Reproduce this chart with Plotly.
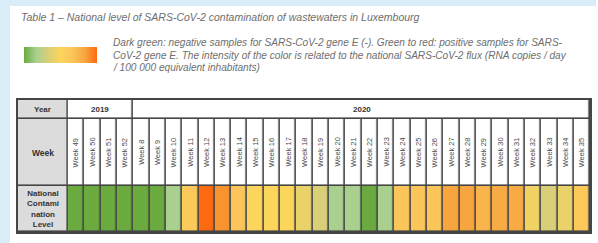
import plotly.graph_objects as go

# ---------------- data ----------------
years = ["2019", "2020"]
year_columns = [4, 28]  # number of week columns under each year
week_labels = [
    "Week 49", "Week 50", "Week 51", "Week 52",
    "Week 8", "Week 9", "Week 10", "Week 11", "Week 12", "Week 13", "Week 14",
    "Week 15", "Week 16", "Week 17", "Week 18", "Week 19", "Week 20", "Week 21",
    "Week 22", "Week 23", "Week 24", "Week 25", "Week 26", "Week 27", "Week 28",
    "Week 29", "Week 30", "Week 31", "Week 32", "Week 33", "Week 34", "Week 35",
]
# contamination level (0 = negative, higher = stronger flux), estimated from colours
levels = [
    0, 0, 0, 0,
    0, 0, 1, 3.7, 6, 5.3, 4,
    3, 3, 3, 2.5, 2, 1, 1,
    0, 1, 4, 4, 4, 5, 5,
    4.5, 4.8, 4.8, 2.7, 2, 2.5, 3.8,
]
row_titles = ["Year", "Week", "National<br>Contami<br>nation<br>Level"]

title_text = "Table 1 – National level of SARS-CoV-2 contamination of wastewaters in Luxembourg"
legend_lines = [
    "Dark green: negative samples for SARS-CoV-2 gene E (-). Green to red: positive samples for SARS-",
    "CoV-2 gene E. The intensity of the color is related to the national SARS-CoV-2 flux (RNA copies / day",
    "/ 100 000 equivalent inhabitants)",
]

colorscale = [
    [0.0, "#6aaa3f"],
    [1 / 6, "#a9d08e"],
    [2 / 6, "#d8cf78"],
    [3 / 6, "#fcd55c"],
    [4 / 6, "#fbc55a"],
    [5 / 6, "#f7a53e"],
    [1.0, "#fe6a10"],
]

# ---------------- layout geometry ----------------
W, H = 598, 243
ML, MR, MT, MB = 18, 6, 100, 11
PW, PH = W - ML - MR, H - MT - MB
n = len(week_labels)
COLW = (592 - 68) / n           # px per week column
LW = 50 / COLW                   # label column width in data units
row_level = [0, 46]
row_week = [46, 113]
row_year = [113, 132]

def xp(px):
    return (px - ML) / PW

def yp(py):
    return (H - MB - py) / PH

GRID = "#454545"
FONT = "Arial, Liberation Sans, sans-serif"
edges = list(range(n + 1))

fig = go.Figure()

# level row (coloured)
fig.add_trace(go.Heatmap(
    x=edges, y=row_level, z=[levels], zmin=0, zmax=6,
    colorscale=colorscale, xgap=1.6, ygap=1.6, hoverinfo="skip",
    showscale=True,
    colorbar=dict(orientation="h", lenmode="pixels", len=73, thickness=16,
                  x=xp(60.5), xanchor="center", y=yp(55), yanchor="middle",
                  xpad=0, ypad=0, outlinewidth=0, ticks="", showticklabels=False),
))
# week row (white)
fig.add_trace(go.Heatmap(
    x=edges, y=row_week, z=[[0] * n], colorscale=[[0, "white"], [1, "white"]],
    xgap=1.6, ygap=1.6, showscale=False, hoverinfo="skip",
))
# year row (white, merged cells)
year_edges = [0]
for c in year_columns:
    year_edges.append(year_edges[-1] + c)
fig.add_trace(go.Heatmap(
    x=year_edges, y=row_year, z=[[0] * len(years)], colorscale=[[0, "white"], [1, "white"]],
    xgap=1.6, ygap=1.6, showscale=False, hoverinfo="skip",
))
# label column (grey)
fig.add_trace(go.Heatmap(
    x=[-LW, 0], y=[row_level[0], row_week[0], row_year[0], row_year[1]],
    z=[[0], [0], [0]], colorscale=[[0, "#dcdcdc"], [1, "#dcdcdc"]],
    xgap=1.6, ygap=1.6, showscale=False, hoverinfo="skip",
))

ann = []
# week labels
for i, lab in enumerate(week_labels):
    ann.append(dict(x=i + 0.5, y=(row_week[0] + row_week[1]) / 2, xref="x", yref="y",
                    text=lab, textangle=-90, showarrow=False,
                    font=dict(size=7.5, color="#4a4a4a", family=FONT)))
# year labels
for k, yr in enumerate(years):
    ann.append(dict(x=(year_edges[k] + year_edges[k + 1]) / 2, y=(row_year[0] + row_year[1]) / 2,
                    xref="x", yref="y", text="<b>" + yr + "</b>", showarrow=False,
                    font=dict(size=8, color="#333", family=FONT)))
# row titles
for txt, rr, sz in zip(row_titles, [row_year, row_week, row_level], [8, 8.5, 8]):
    ann.append(dict(x=-LW / 2, y=(rr[0] + rr[1]) / 2, xref="x", yref="y",
                    text="<b>" + txt + "</b>", showarrow=False,
                    font=dict(size=sz, color="#333", family=FONT)))
# title and legend description
ann.append(dict(x=xp(19), y=yp(17), xref="paper", yref="paper", xanchor="left", yanchor="middle",
                text="<i>" + title_text + "</i>", showarrow=False,
                font=dict(size=10.5, color="#6e6e6e", family=FONT)))
for j, line in enumerate(legend_lines):
    ann.append(dict(x=xp(111), y=yp(43 + 12 * j), xref="paper", yref="paper",
                    xanchor="left", yanchor="middle",
                    text="<i>" + line + "</i>", showarrow=False, align="left",
                    font=dict(size=10.1, color="#6e6e6e", family=FONT)))

shapes = [
    dict(type="rect", xref="paper", yref="paper", x0=xp(0), x1=xp(10), y0=yp(H), y1=yp(0),
         fillcolor="#d9edf8", line_width=0, layer="below"),
    dict(type="rect", xref="paper", yref="paper", x0=xp(0), x1=xp(W), y0=yp(6), y1=yp(0),
         fillcolor="#d9edf8", line_width=0, layer="below"),
]

axis_common = dict(showgrid=False, zeroline=False, showticklabels=False, ticks="",
                   showline=True, mirror=True, linecolor=GRID, linewidth=1.5, fixedrange=True)
fig.update_layout(
    width=W, height=H, autosize=False,
    margin=dict(l=ML, r=MR, t=MT, b=MB, pad=0),
    paper_bgcolor="white", plot_bgcolor=GRID,
    xaxis=dict(range=[-LW, n], **axis_common),
    yaxis=dict(range=[0, row_year[1]], **axis_common),
    annotations=ann, shapes=shapes, showlegend=False,
)
fig.write_html("out.html", config={"displayModeBar": False},
               post_script="document.body.style.margin='0';document.body.style.overflow='hidden';")
